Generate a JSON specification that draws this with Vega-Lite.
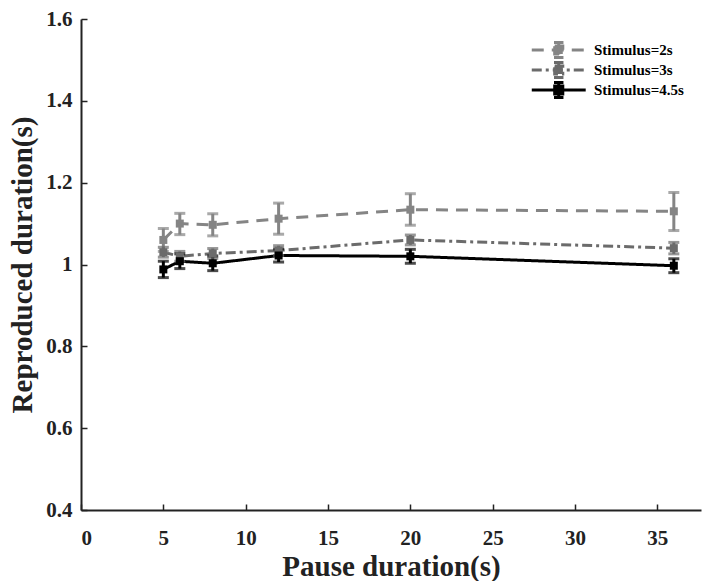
{
  "$schema": "https://vega.github.io/schema/vega-lite/v6.json",
  "autosize": "none",
  "width": 620,
  "height": 491,
  "padding": {"left": 81, "top": 19, "right": 1, "bottom": 71},
  "background": "white",
  "config": {
    "view": {"stroke": null},
    "font": "Liberation Serif",
    "axis": {
      "grid": false,
      "domainColor": "#222",
      "domainWidth": 2,
      "tickColor": "#222",
      "tickWidth": 1.5,
      "labelFont": "Liberation Serif",
      "labelFontWeight": "bold",
      "labelFontSize": 21,
      "labelColor": "#222",
      "titleFont": "Liberation Serif",
      "titleFontWeight": "bold",
      "titleFontSize": 29,
      "titleColor": "#222"
    }
  },
  "data": {
    "values": [
      {"pause": 5, "mean": 1.06, "lo": 1.032, "hi": 1.088, "stim": "Stimulus=2s"},
      {"pause": 6, "mean": 1.10, "lo": 1.073, "hi": 1.125, "stim": "Stimulus=2s"},
      {"pause": 8, "mean": 1.097, "lo": 1.070, "hi": 1.124, "stim": "Stimulus=2s"},
      {"pause": 12, "mean": 1.112, "lo": 1.074, "hi": 1.150, "stim": "Stimulus=2s"},
      {"pause": 20, "mean": 1.134, "lo": 1.096, "hi": 1.173, "stim": "Stimulus=2s"},
      {"pause": 36, "mean": 1.13, "lo": 1.083, "hi": 1.176, "stim": "Stimulus=2s"},
      {"pause": 5, "mean": 1.03, "lo": 1.018, "hi": 1.042, "stim": "Stimulus=3s"},
      {"pause": 6, "mean": 1.02, "lo": 1.008, "hi": 1.032, "stim": "Stimulus=3s"},
      {"pause": 8, "mean": 1.027, "lo": 1.015, "hi": 1.039, "stim": "Stimulus=3s"},
      {"pause": 12, "mean": 1.034, "lo": 1.022, "hi": 1.046, "stim": "Stimulus=3s"},
      {"pause": 20, "mean": 1.06, "lo": 1.048, "hi": 1.072, "stim": "Stimulus=3s"},
      {"pause": 36, "mean": 1.04, "lo": 1.026, "hi": 1.054, "stim": "Stimulus=3s"},
      {"pause": 5, "mean": 0.988, "lo": 0.968, "hi": 1.008, "stim": "Stimulus=4.5s"},
      {"pause": 6, "mean": 1.008, "lo": 0.99, "hi": 1.026, "stim": "Stimulus=4.5s"},
      {"pause": 8, "mean": 1.003, "lo": 0.985, "hi": 1.021, "stim": "Stimulus=4.5s"},
      {"pause": 12, "mean": 1.022, "lo": 1.006, "hi": 1.038, "stim": "Stimulus=4.5s"},
      {"pause": 20, "mean": 1.02, "lo": 1.003, "hi": 1.037, "stim": "Stimulus=4.5s"},
      {"pause": 36, "mean": 0.997, "lo": 0.98, "hi": 1.014, "stim": "Stimulus=4.5s"}
    ]
  },
  "encoding": {
    "x": {
      "field": "pause", "type": "quantitative",
      "scale": {"domain": [0, 37.65], "nice": false, "zero": false},
      "axis": {"values": [0, 5, 10, 15, 20, 25, 30, 35], "tickSize": -6, "labelPadding": 23, "title": "Pause duration(s)", "titlePadding": 4}
    },
    "color": {
      "field": "stim", "type": "nominal",
      "scale": {"domain": ["Stimulus=2s", "Stimulus=3s", "Stimulus=4.5s"], "range": ["#858585", "#6b6b6b", "#000000"]},
      "legend": null
    }
  },
  "layer": [
    {
      "mark": {"type": "line", "strokeWidth": 3},
      "encoding": {
        "y": {
          "field": "mean", "type": "quantitative",
          "scale": {"domain": [0.4, 1.6], "nice": false, "zero": false},
          "axis": {"values": [0.4, 0.6, 0.8, 1, 1.2, 1.4, 1.6], "format": "~g", "tickSize": -6, "labelPadding": 15, "title": "Reproduced duration(s)", "titlePadding": 8}
        },
        "strokeDash": {
          "field": "stim", "type": "nominal",
          "scale": {"domain": ["Stimulus=2s", "Stimulus=3s", "Stimulus=4.5s"], "range": [[12, 8], [10, 4, 3, 4], [1, 0]]},
          "legend": {
            "orient": "none", "legendX": 449, "legendY": 21, "padding": 0,
            "title": null, "clipHeight": 20,
            "symbolType": "M-1,0H7M2.4,-0.6H3.6V0.6H2.4ZM3,-1.1V1.1M2.3,-1.1H3.7M2.3,1.1H3.7", "symbolSize": 182, "symbolStrokeWidth": 3,
            "labelFont": "Liberation Serif", "labelFontWeight": "bold", "labelFontSize": 15,
            "labelColor": "#000", "rowPadding": 0, "labelOffset": 47,
            "encode": {"symbols": {"update": {"fill": {"scale": "color", "field": "value"}}}}
          }
        },
        "color": {"field": "stim", "type": "nominal", "legend": {
            "orient": "none", "legendX": 449, "legendY": 21, "padding": 0,
            "title": null, "clipHeight": 20,
            "symbolType": "M-1,0H7M2.4,-0.6H3.6V0.6H2.4ZM3,-1.1V1.1M2.3,-1.1H3.7M2.3,1.1H3.7", "symbolSize": 182, "symbolStrokeWidth": 3,
            "labelFont": "Liberation Serif", "labelFontWeight": "bold", "labelFontSize": 15,
            "labelColor": "#000", "rowPadding": 0, "labelOffset": 47,
            "encode": {"symbols": {"update": {"fill": {"scale": "color", "field": "value"}}}}
          }}
      }
    },
    {
      "mark": {"type": "rule", "strokeWidth": 3},
      "encoding": {"y": {"field": "lo", "type": "quantitative"}, "y2": {"field": "hi"}}
    },
    {
      "mark": {"type": "tick", "thickness": 3, "size": 11, "orient": "horizontal"},
      "encoding": {"y": {"field": "lo", "type": "quantitative"}}
    },
    {
      "mark": {"type": "tick", "thickness": 3, "size": 11, "orient": "horizontal"},
      "encoding": {"y": {"field": "hi", "type": "quantitative"}}
    },
    {
      "mark": {"type": "square", "size": 64, "opacity": 1, "filled": true},
      "encoding": {"y": {"field": "mean", "type": "quantitative"}}
    }
  ]
}
